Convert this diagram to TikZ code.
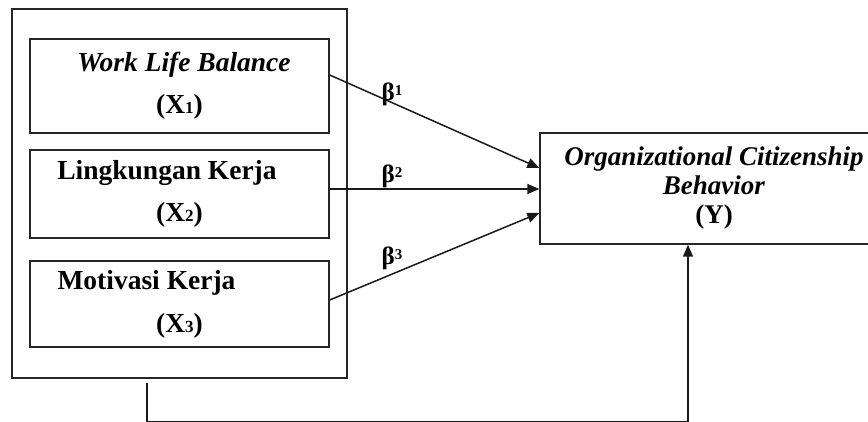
\documentclass[tikz,border=0pt]{standalone}
\usepackage{fontspec}
\setmainfont{Liberation Serif}
\usetikzlibrary{positioning,arrows.meta}

\newcommand{\xsub}[1]{{\fontsize{17}{17}\selectfont #1}}
\newcommand{\bsup}[1]{\raisebox{5pt}{\fontsize{15}{15}\selectfont #1}}

\begin{document}
\begin{tikzpicture}[x=1pt,y=-1pt,
		box/.style={draw=black!85,line width=1.4pt,inner sep=0pt,align=center,font=\fontsize{27.5}{30}\selectfont\bfseries},
		path/.style={draw=black!90,line width=1.5pt,-{Triangle[length=12pt,width=10pt]}},
		coef/.style={font=\fontsize{25}{25}\selectfont\bfseries}]
	\useasboundingbox (0,0) rectangle (868,422);
	\clip (0,0) rectangle (868,422);
	
	% independent variables
	\node[box,minimum width=335pt,minimum height=369pt] (grp) at (179.5,193.5) {};
	\node[box,minimum width=299pt,minimum height=94pt] (wlb) at (179.5,86) {\hspace*{9pt}\textit{Work Life Balance}\\[12pt](X\xsub{1})};
	\node[box,minimum width=299pt,minimum height=88pt] (lk) at (179.5,194) {Lingkungan Kerja\hspace*{25pt}\\[12pt](X\xsub{2})};
	\node[box,minimum width=299pt,minimum height=86pt] (mk) at (179.5,304) {Motivasi Kerja\hspace*{66pt}\\[13pt](X\xsub{3})};
	
	% dependent variable
	\node[box,font=\fontsize{27}{29}\selectfont\bfseries,minimum width=348pt,minimum height=111pt] (ocb) at (714,188.5) {\textit{Organizational Citizenship}\\\textit{Behavior}\\(Y)};
	
	\coordinate (lkout) at ([yshift=5pt]lk.east);
	\draw[path] ([yshift=11pt]wlb.east) -- ([yshift=20.5pt]ocb.west);
	\draw[path] (lkout) -- (lkout -| ocb.west);
	\draw[path] ([yshift=4pt]mk.east) -- ([yshift=-24.5pt]ocb.west);
	
	\node[coef] (b1) at (392,94) {β\bsup{1}};
	\node[coef] (b2) at (392,176) {β\bsup{2}};
	\node[coef] (b3) at (392,258) {β\bsup{3}};
	
	% simultaneous effect
	\coordinate (loopstart) at ([xshift=-32.5pt,yshift=-4pt]grp.south);
	\draw[path] (loopstart) -- ++(0,39) -| ([xshift=-26pt]ocb.south);
\end{tikzpicture}
\end{document}
